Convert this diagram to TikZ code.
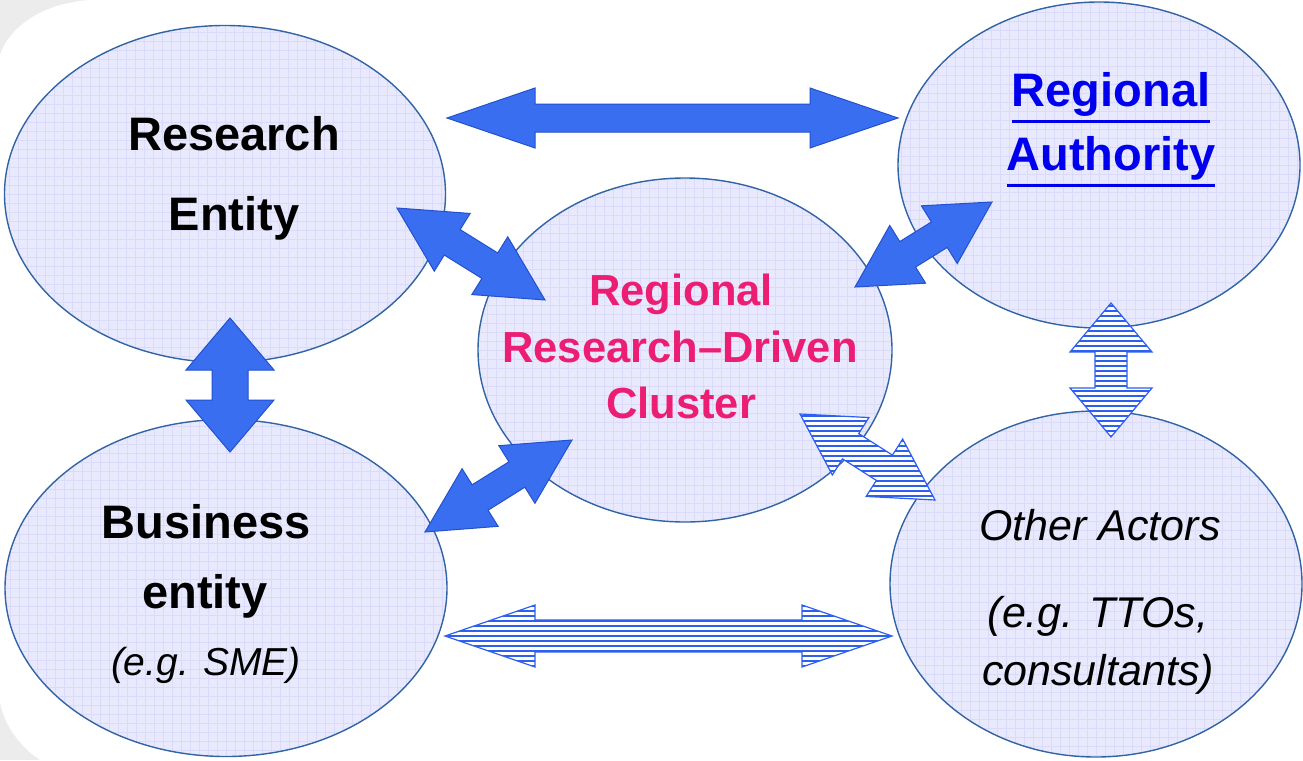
\documentclass[tikz,border=0pt]{standalone}
\usepackage{fontspec}
\setmainfont{Liberation Sans}
\usetikzlibrary{calc,shapes.geometric}
\definecolor{bggrey}{RGB}{236,236,236}
\definecolor{ellfill}{RGB}{233,233,253}
\definecolor{ellgrid}{RGB}{218,218,250}
\definecolor{elldraw}{RGB}{50,100,165}
\definecolor{solidfill}{RGB}{58,110,240}
\definecolor{soliddraw}{RGB}{35,80,205}
\definecolor{hatchblue}{RGB}{45,95,240}
\definecolor{clustermag}{RGB}{236,30,115}
\definecolor{linkblue}{RGB}{0,0,238}

% double-headed block arrow outline: from #1 to #2, head length #3, head half-width #4, shaft half-width #5
\newcommand\dblarr[5]{let \p1=(#1),\p2=(#2),\n1={atan2(\y2-\y1,\x2-\x1)},\n2={veclen(\x2-\x1,\y2-\y1)} in {[shift={(\p1)},rotate=\n1] (0,0) -- (#3,#4) -- (#3,#5) -- (\n2-#3,#5) -- (\n2-#3,#4) -- (\n2,0) -- (\n2-#3,-#4) -- (\n2-#3,-#5) -- (#3,-#5) -- (#3,-#4) -- cycle}}
\newcommand\solidarr[5]{\draw[solidarrow] \dblarr{#1}{#2}{#3}{#4}{#5};}
\newcommand\hatcharr[5]{%
  \begin{scope}
    \clip \dblarr{#1}{#2}{#3}{#4}{#5};
    \fill[white] (0,0) rectangle (1303,760);
    \foreach \hy in {1,6,...,760} \draw[hatchline] (0,\hy) -- (1303,\hy);
  \end{scope}
  \draw[hatchedge] \dblarr{#1}{#2}{#3}{#4}{#5};}
\newcommand\myul[1]{\leavevmode\vtop{\hbox{#1}\kern4pt\hrule height 3pt}}

\tikzset{
  ell/.style={ellipse, draw=elldraw, line width=1.4, fill=ellfill, inner sep=0,
    path picture={\draw[ellgrid, line width=0.7, step=9pt] (path picture bounding box.south west) grid (path picture bounding box.north east);}},
  solidarrow/.style={fill=solidfill, draw=soliddraw, line width=1, line join=miter},
  hatchline/.style={hatchblue, line width=1.4},
  hatchedge/.style={draw=hatchblue, line width=1.2, line join=miter},
  lbl/.style={anchor=base, inner sep=0},
  bigbold/.style={lbl, font=\fontsize{47}{56}\selectfont\bfseries},
  clusterfont/.style={lbl, text=clustermag, font=\fontsize{43.5}{52}\selectfont\bfseries},
  authfont/.style={lbl, text=linkblue, font=\fontsize{47}{56}\selectfont\bfseries},
  itfont/.style={lbl, font=\fontsize{43}{52}\selectfont\itshape},
}

\begin{document}
\begin{tikzpicture}[x=1pt, y=-1pt]
\useasboundingbox (0,0) rectangle (1303,760);
% background
\fill[bggrey] (0,0) rectangle (1303,760);
\fill[white] (90,0) -- (1303,0) -- (1303,760) -- (40,760) .. controls (18,745) and (5,725) .. (0,703) -- (0,55) .. controls (10,25) and (45,3) .. (90,0) -- cycle;

% ellipses
\node[ell, minimum width=441, minimum height=337] (re) at (225,194) {};
\node[ell, minimum width=442, minimum height=337] (be) at (226,588) {};
\node[ell, minimum width=414, minimum height=344] (rc) at (685,350) {};
\node[ell, minimum width=402, minimum height=326] (ra) at (1099,165) {};
\node[ell, minimum width=412, minimum height=346] (oa) at (1096,584) {};

% arrow end points
\coordinate (reTop) at (447,118);   \coordinate (raTop) at (898,118);
\coordinate (reC) at (397,208);     \coordinate (rcRe) at (545,300);
\coordinate (rcRa) at (855,287);    \coordinate (raC) at (992,202);
\coordinate (reB) at (230,318);     \coordinate (beR) at (230,452);
\coordinate (beC) at (425,532);     \coordinate (rcBe) at (572,440);
\coordinate (rcOa) at (800,414);    \coordinate (oaC) at (935,500);
\coordinate (raOa) at (1111,303);   \coordinate (oaRa) at (1111,437);
\coordinate (beOa) at (445,636);    \coordinate (oaBe) at (892,636);

% solid arrows
\solidarr{reTop}{raTop}{88}{30}{14}
\solidarr{reC}{rcRe}{65}{34}{15}
\solidarr{rcRa}{raC}{62}{34}{15}
\solidarr{reB}{beR}{52}{44}{18}
\solidarr{beC}{rcBe}{65}{34}{15}

% hatched arrows
\hatcharr{rcOa}{oaC}{60}{34}{15}
\hatcharr{raOa}{oaRa}{49}{41}{16}
\hatcharr{beOa}{oaBe}{90}{31}{16}

% texts
\node[bigbold] (re1) at (234,150) {Research};
\node[bigbold] (re2) at (234,230) {Entity};
\node[bigbold] (be1) at (206,538) {Business};
\node[bigbold] (be2) at (205,608) {entity};
\node[lbl, font=\fontsize{39}{47}\selectfont\itshape] (be3) at (206,675) {(e.g. SME)};
\node[clusterfont] (rc1) at (681,305) {Regional};
\node[clusterfont] (rc2) at (680,362) {Research–Driven};
\node[clusterfont] (rc3) at (681,418) {Cluster};
\node[authfont] (ra1) at (1111,106) {\myul{Regional}};
\node[authfont] (ra2) at (1111,170) {\myul{Authority}};
\node[itfont] (oa1) at (1100,540) {Other Actors};
\node[itfont] (oa2) at (1098,627) {(e.g. TTOs,};
\node[itfont] (oa3) at (1098,685) {consultants)};
\end{tikzpicture}
\end{document}
